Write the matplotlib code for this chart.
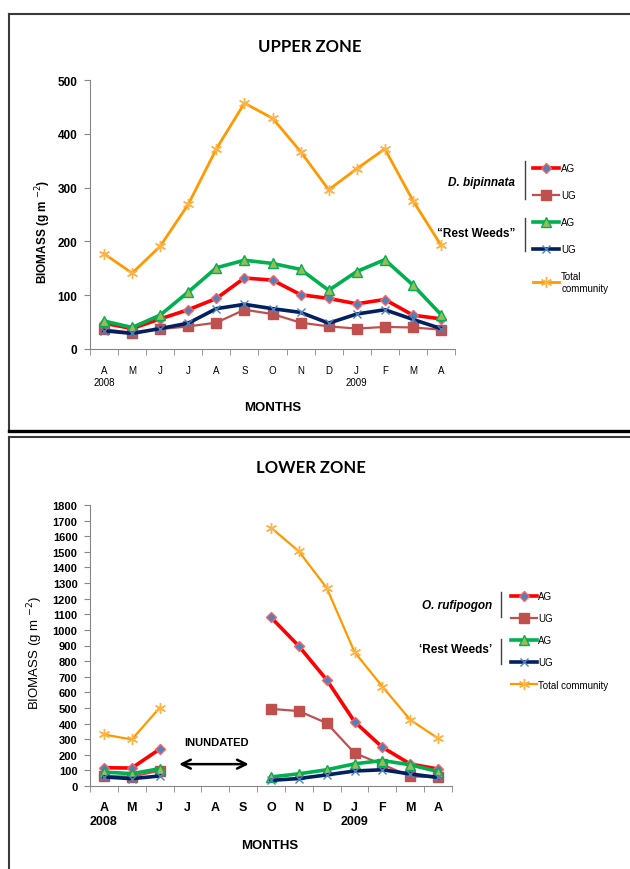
import numpy as np
import matplotlib
matplotlib.use('Agg')
import matplotlib.pyplot as plt
from matplotlib.lines import Line2D

plt.rcParams['font.family'] = ['Liberation Sans', 'DejaVu Sans']

months = ['A', 'M', 'J', 'J', 'A', 'S', 'O', 'N', 'D', 'J', 'F', 'M', 'A']
years = {0: '2008', 9: '2009'}

# upper zone (g m-2)
up_dbip_ag = [48, 38, 56, 73, 94, 132, 128, 101, 94, 84, 92, 63, 56]
up_dbip_ug = [37, 30, 37, 42, 49, 73, 65, 49, 42, 38, 41, 40, 36]
up_rest_ag = [52, 40, 63, 106, 151, 165, 159, 148, 109, 144, 166, 119, 64]
up_rest_ug = [34, 29, 38, 48, 75, 83, 75, 68, 48, 65, 73, 55, 38]
up_total = [177, 141, 191, 269, 372, 457, 429, 367, 296, 335, 372, 276, 193]

# lower zone (inundated J, A, S -> no data)
nan = np.nan
low_oruf_ag = [117, 115, 236, nan, nan, nan, 1080, 896, 680, 412, 248, 141, 109]
low_oruf_ug = [64, 60, 98, nan, nan, nan, 494, 480, 403, 211, 138, 62, 55]
low_rest_ag = [89, 79, 111, nan, nan, nan, 58, 78, 104, 142, 163, 136, 92]
low_rest_ug = [58, 47, 64, nan, nan, nan, 36, 48, 71, 96, 104, 77, 55]
low_total = [330, 298, 501, nan, nan, nan, 1655, 1503, 1269, 858, 637, 424, 305]

W, H = 630, 870
def fx(x):
    return x / W
def fy(y):
    return 1 - y / H

styles = [
    dict(color='#ff0000', marker='D', mfc='#4f81bd', mec='#ff6060', ms=5, lw=2.6),
    dict(color='#c0504d', marker='s', mfc='#c0504d', mec='#c0504d', ms=6.5, lw=1.6),
    dict(color='#00b050', marker='^', mfc='#9bbb59', mec='#00b050', ms=6.5, lw=2.6),
    dict(color='#002060', marker='x', mfc='none', mec='#4f81bd', ms=6, lw=2.6, mew=1),
    dict(color='#ff9900', marker=(6, 2, 0), mfc='none', mec='#ffb347', ms=8, lw=2.0, mew=1),
]

fig = plt.figure(figsize=(6.3, 8.7), dpi=100)


def setup_axes(ax, ymax, ytick_size, xtick_size, xweight, pad, lsp):
    x = np.arange(len(months))
    ax.set_xlim(-0.5, len(months) - 0.5)
    ax.set_ylim(0, ymax)
    labs = [m + ('\n' + years[i] if i in years else '') for i, m in enumerate(months)]
    ax.set_xticks(x)
    ax.set_xticklabels(labs, fontsize=xtick_size, fontweight=xweight,
                       va='top', linespacing=lsp)
    ax.set_xticks(np.arange(-0.5, len(months)), minor=True)
    ax.tick_params(axis='x', which='major', length=0, pad=pad)
    ax.tick_params(axis='x', which='minor', length=4, color='#868686')
    ax.tick_params(axis='y', length=4, color='#868686', pad=5)
    for t in ax.get_yticklabels():
        t.set_fontsize(ytick_size)
        t.set_fontweight('bold')
    for s in ['top', 'right']:
        ax.spines[s].set_visible(False)
    for s in ['left', 'bottom']:
        ax.spines[s].set_color('#868686')
    return x


# ---------------- upper zone
ax1 = fig.add_axes([fx(90), fy(350), fx(455) - fx(90), fy(81) - fy(350)])
ax1.set_yticks(np.arange(0, 501, 100))
x = setup_axes(ax1, 500, 8.5, 7, 'normal', 11.5, 1.3)
series = [up_dbip_ag, up_dbip_ug, up_rest_ag, up_rest_ug, up_total]
lines1 = []
for ys, st in zip(series, styles):
    l, = ax1.plot(x, ys, **st)
    lines1.append(l)
ax1.set_ylabel(r'BIOMASS (g m $^{-2}$)', fontsize=8.5, fontweight='bold')
ax1.yaxis.set_label_coords(-0.101, 0.44)

ax1.legend(lines1, ['AG', 'UG', 'AG', 'UG', 'Total\ncommunity'], loc='upper left',
           bbox_to_anchor=(fx(533), fy(164)), bbox_transform=fig.transFigure,
           frameon=False, fontsize=7, handlelength=2.7, handletextpad=0.2,
           labelspacing=1.75, borderpad=0, borderaxespad=0)

fig.text(fx(515), fy(183), 'D. bipinnata', ha='right', va='center', fontsize=8.5,
         fontweight='bold', style='italic')
fig.text(fx(515), fy(234), '\u201cRest Weeds\u201d', ha='right', va='center', fontsize=8.5,
         fontweight='bold')
fig.add_artist(Line2D([fx(525), fx(525)], [fy(162), fy(200)], transform=fig.transFigure,
                      color='#404040', lw=1))
fig.add_artist(Line2D([fx(525), fx(525)], [fy(219), fy(252)], transform=fig.transFigure,
                      color='#404040', lw=1))

fig.text(fx(310), fy(47), 'UPPER ZONE', ha='center', va='center', fontsize=12,
         fontweight='bold', family='Lato')
fig.text(fx(273), fy(408), 'MONTHS', ha='center', va='center', fontsize=9.5,
         fontweight='bold')

# ---------------- lower zone
ax2 = fig.add_axes([fx(90), fy(787), fx(452) - fx(90), fy(506) - fy(787)])
ax2.set_yticks(np.arange(0, 1801, 100))
x = setup_axes(ax2, 1800, 8, 9, 'bold', 11, 1.15)
series = [low_oruf_ag, low_oruf_ug, low_rest_ag, low_rest_ug, low_total]
lines2 = []
for ys, st in zip(series, styles):
    st2 = dict(st)
    if st2['color'] == '#ff9900':
        st2['lw'] = 1.6
    l, = ax2.plot(x, ys, **st2)
    lines2.append(l)
ax2.set_ylabel(r'BIOMASS (g m $^{-2}$)', fontsize=9.5)
ax2.yaxis.set_label_coords(-0.124, 0.477)

ax2.annotate('', xy=(2.6, 140), xytext=(5.3, 140),
             arrowprops=dict(arrowstyle='<->', lw=1.8, color='black', mutation_scale=16))
ax2.text(4.05, 282, 'INUNDATED', ha='center', va='center', fontsize=8, fontweight='bold')

ax2.legend(lines2, ['AG', 'UG', 'AG', 'UG', 'Total community'], loc='upper left',
           bbox_to_anchor=(fx(511), fy(592)), bbox_transform=fig.transFigure,
           frameon=False, fontsize=7, handlelength=2.7, handletextpad=0.1,
           labelspacing=1.25, borderpad=0, borderaxespad=0)

fig.text(fx(492), fy(606), 'O. rufipogon', ha='right', va='center', fontsize=8.5,
         style='italic', fontweight='bold')
fig.text(fx(492), fy(650), '\u2018Rest Weeds\u2019', ha='right', va='center', fontsize=8.5,
         fontweight='bold')
fig.add_artist(Line2D([fx(501), fx(501)], [fy(593), fy(618)], transform=fig.transFigure,
                      color='#404040', lw=1))
fig.add_artist(Line2D([fx(501), fx(501)], [fy(640), fy(665)], transform=fig.transFigure,
                      color='#404040', lw=1))

fig.text(fx(311), fy(468), 'LOWER ZONE', ha='center', va='center', fontsize=12,
         fontweight='bold', family='Lato')
fig.text(fx(270), fy(846), 'MONTHS', ha='center', va='center', fontsize=9.5,
         fontweight='bold')

# ---------------- panel frames
frame = dict(transform=fig.transFigure, color='#3a3a3a', lw=1.5)
fig.add_artist(Line2D([fx(9), fx(9)], [fy(15), fy(432)], **frame))
fig.add_artist(Line2D([fx(9), fx(640)], [fy(15), fy(15)], **frame))
fig.add_artist(Line2D([fx(9), fx(640)], [fy(432), fy(432)], transform=fig.transFigure,
                      color='black', lw=2.4))
fig.add_artist(Line2D([fx(9), fx(640)], [fy(438), fy(438)], **frame))
fig.add_artist(Line2D([fx(9), fx(9)], [fy(438), fy(880)], **frame))

plt.savefig('out.png', dpi=100)
